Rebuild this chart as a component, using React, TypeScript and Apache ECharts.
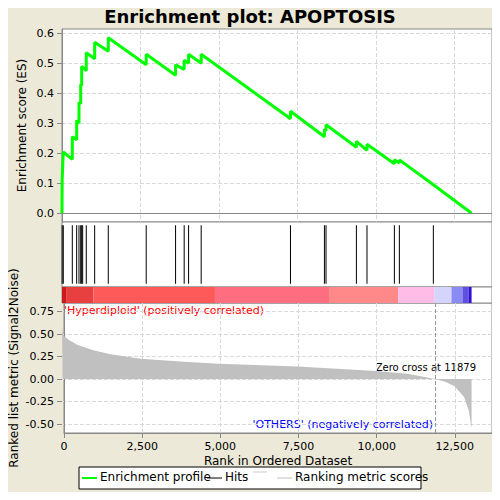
import * as echarts from "echarts";
import { useEffect, useRef } from "react";

// running enrichment score
const esRanks = [0, 5, 41, 328, 328, 467, 467, 541, 541, 595, 595, 626, 626, 773, 773, 1040, 1040, 1473, 1473, 2681, 2681, 3616, 3616, 3890, 3890, 4030, 4030, 4431, 4431, 7274, 7274, 8355, 8355, 8406, 8406, 9373, 9373, 9710, 9710, 10582, 10582, 10741, 10741, 11823, 13040];
const esValues = [0, 0.11, 0.205, 0.18, 0.255, 0.245, 0.31, 0.30, 0.37, 0.365, 0.43, 0.425, 0.49, 0.475, 0.535, 0.515, 0.57, 0.54, 0.585, 0.495, 0.53, 0.46, 0.495, 0.48, 0.51, 0.50, 0.53, 0.50, 0.53, 0.315, 0.34, 0.255, 0.28, 0.275, 0.295, 0.22, 0.24, 0.21, 0.23, 0.165, 0.178, 0.168, 0.178, 0.095, 0];

const hitRanks = [5, 41, 328, 467, 541, 595, 626, 658, 773, 1040, 1473, 2681, 3616, 3890, 4030, 4431, 7274, 8355, 8406, 9373, 9710, 10582, 10741, 11823];

const metricRanks = [0, 20, 60, 200, 500, 1000, 1500, 2500, 4000, 5000, 7500, 10000, 11000, 11879, 12200, 12500, 12800, 12950, 13040];
const metricValues = [0.6, 0.52, 0.48, 0.44, 0.38, 0.32, 0.28, 0.225, 0.19, 0.17, 0.14, 0.09, 0.06, 0, -0.03, -0.08, -0.2, -0.35, -0.55];

const barStarts = [0, 150, 1000, 4870, 8500, 10700, 11850, 12400, 12750, 12950];
const barEnds = [150, 1000, 4870, 8500, 10700, 11850, 12400, 12750, 12950, 13040];
const barColors = ["#d01818", "#e84040", "#ff5a5a", "#ff6e80", "#ff8888", "#ffbce6", "#d4d4fc", "#8a8af4", "#6050e0", "#3010d0"];

const zeroCross = 11879;
const xMax = 13690;

export default function App() {
  const ref = useRef<HTMLDivElement>(null);

  useEffect(() => {
    if (!ref.current) return;
    const chart = echarts.init(ref.current, null, { renderer: "svg" });
    // 0,1: panel backgrounds; 2: ES; 3: hits; 4: colour bar; 5: metric
    const grids = [
      { left: 62, right: 8, top: 29, height: 193 },
      { left: 62, right: 8, top: 303, height: 130 },
      { left: 62, right: 8, top: 33.3, height: 180 },
      { left: 62, right: 8, top: 222, height: 65 },
      { left: 62, right: 8, top: 287, height: 16 },
      { left: 62, right: 8, top: 311.7, height: 112.3 },
    ];
    const split = { show: true, lineStyle: { type: "dashed", color: "#d8d8d8" } };
    const xAxis = grids.map((_, i) => ({
      type: "value",
      gridIndex: i,
      min: 0,
      max: xMax,
      interval: 2500,
      axisLine: { show: i === 1, onZero: false, lineStyle: { color: "#888" } },
      axisTick: { show: i === 1, lineStyle: { color: "#888" } },
      axisLabel: { show: i === 1, color: "#000", fontSize: 11, formatter: (v: number) => v.toLocaleString("en-US") },
      splitLine: i === 0 || i === 1 ? split : { show: false },
      name: i === 1 ? "Rank in Ordered Dataset" : "",
      nameLocation: "middle",
      nameGap: 22,
      nameTextStyle: { fontSize: 12, color: "#000" },
    }));
    const yAxis = [
      {
        type: "value", gridIndex: 0, min: 0, max: 1, show: true, axisLabel: { show: false }, axisTick: { show: false },
        splitLine: { show: false }, axisLine: { show: true, lineStyle: { color: "#888" } },
        name: "Enrichment score (ES)", nameLocation: "middle", nameGap: 34, nameTextStyle: { fontSize: 12, color: "#000" },
      },
      {
        type: "value", gridIndex: 1, min: 0, max: 1, show: true, axisLabel: { show: false }, axisTick: { show: false },
        splitLine: { show: false }, axisLine: { show: true, lineStyle: { color: "#888" } },
        name: "Ranked list metric (Signal2Noise)", nameLocation: "middle", nameGap: 44, nameTextStyle: { fontSize: 12, color: "#000" },
      },
      {
        type: "value", gridIndex: 2, min: 0, max: 0.6, interval: 0.1,
        axisLabel: { fontSize: 11, color: "#000", formatter: (v: number) => v.toFixed(1) },
        axisLine: { show: false }, axisTick: { show: true, lineStyle: { color: "#888" } },
        splitLine: split,
      },
      { type: "value", gridIndex: 3, min: 0, max: 1, show: false },
      { type: "value", gridIndex: 4, min: 0, max: 1, show: false },
      {
        type: "value", gridIndex: 5, min: -0.5, max: 0.75, interval: 0.25,
        axisLabel: { fontSize: 11, color: "#000", formatter: (v: number) => v.toFixed(2) },
        axisLine: { show: false }, axisTick: { show: true, lineStyle: { color: "#888" } },
        splitLine: split,
      },
    ];
    chart.setOption({
      animation: false,
      backgroundColor: "#ece9d8",
      title: { text: "Enrichment plot: APOPTOSIS", left: "center", top: 2, textStyle: { fontSize: 18, fontWeight: "bold", color: "#000", fontFamily: "DejaVu Sans" } },
      textStyle: { fontFamily: "DejaVu Sans" },
      grid: grids.map((g, i) => ({
        ...g,
        show: i !== 2 && i !== 5,
        backgroundColor: "#fff",
        borderColor: "#888",
        borderWidth: 1,
      })),
      xAxis,
      yAxis,
      series: [
        {
          type: "line", xAxisIndex: 2, yAxisIndex: 2, symbol: "none", clip: false,
          data: esRanks.map((r, i) => [r, esValues[i]]),
          lineStyle: { color: "#00ff00", width: 3 },
          markLine: { silent: true, symbol: "none", label: { show: false }, lineStyle: { color: "#888", type: "solid", width: 1 }, data: [{ yAxis: 0 }] },
        },
        {
          type: "custom", xAxisIndex: 3, yAxisIndex: 3,
          data: hitRanks.map((r) => [r]),
          renderItem: (_p: any, api: any) => {
            const x = api.coord([api.value(0), 0])[0];
            const y0 = api.coord([0, 0.05])[1];
            const y1 = api.coord([0, 0.95])[1];
            return { type: "line", shape: { x1: x, y1: y0, x2: x, y2: y1 }, style: { stroke: "#000", lineWidth: 1 } };
          },
        },
        {
          type: "custom", xAxisIndex: 4, yAxisIndex: 4,
          data: barStarts.map((s, i) => [s, barEnds[i], i]),
          renderItem: (_p: any, api: any) => {
            const a = api.coord([api.value(0), 1]);
            const b = api.coord([api.value(1), 0]);
            return { type: "rect", shape: { x: a[0], y: a[1], width: b[0] - a[0], height: b[1] - a[1] }, style: { fill: barColors[api.value(2)] } };
          },
        },
        {
          type: "line", xAxisIndex: 5, yAxisIndex: 5, symbol: "none", clip: false,
          data: metricRanks.map((r, i) => [r, metricValues[i]]),
          lineStyle: { width: 0 },
          areaStyle: { color: "#c0c0c0", opacity: 1, origin: 0 },
        },
        {
          type: "line", xAxisIndex: 1, yAxisIndex: 1, symbol: "none", data: [],
          markLine: {
            silent: true, symbol: "none", lineStyle: { color: "#999", type: "dashed", width: 1 },
            label: { show: false },
            data: [{ xAxis: zeroCross }],
          },
        },
      ],
      graphic: [
        { type: "text", left: 64, top: 305, style: { text: "'Hyperdiploid' (positively correlated)", fill: "#ff0000", fontSize: 11, fontFamily: "DejaVu Sans" } },
        { type: "text", right: 67, top: 419, style: { text: "'OTHERS' (negatively correlated)", fill: "#0000ff", fontSize: 11, fontFamily: "DejaVu Sans" } },
        { type: "text", right: 24, top: 362, style: { text: "Zero cross at 11879", fill: "#000", fontSize: 10, fontFamily: "DejaVu Sans" } },
        { type: "rect", shape: { x: 79, y: 467, width: 342, height: 22 }, style: { fill: "#fff", stroke: "#000", lineWidth: 1 } },
        { type: "line", shape: { x1: 82, y1: 478, x2: 97, y2: 478 }, style: { stroke: "#00ff00", lineWidth: 2 } },
        { type: "text", x: 100, y: 471, style: { text: "Enrichment profile", fill: "#000", fontSize: 12, fontFamily: "DejaVu Sans" } },
        { type: "line", shape: { x1: 207, y1: 478, x2: 222, y2: 478 }, style: { stroke: "#000", lineWidth: 1 } },
        { type: "text", x: 225, y: 471, style: { text: "Hits", fill: "#000", fontSize: 12, fontFamily: "DejaVu Sans" } },
        { type: "line", shape: { x1: 253, y1: 472, x2: 267, y2: 472 }, style: { stroke: "#ccc", lineWidth: 1 } },
        { type: "line", shape: { x1: 277, y1: 478, x2: 292, y2: 478 }, style: { stroke: "#c0c0c0", lineWidth: 1 } },
        { type: "text", x: 295, y: 471, style: { text: "Ranking metric scores", fill: "#000", fontSize: 12, fontFamily: "DejaVu Sans" } },
      ],
    });
    return () => chart.dispose();
  }, []);

  return <div ref={ref} style={{ width: 500, height: 500, margin: -8 }} />;
}
